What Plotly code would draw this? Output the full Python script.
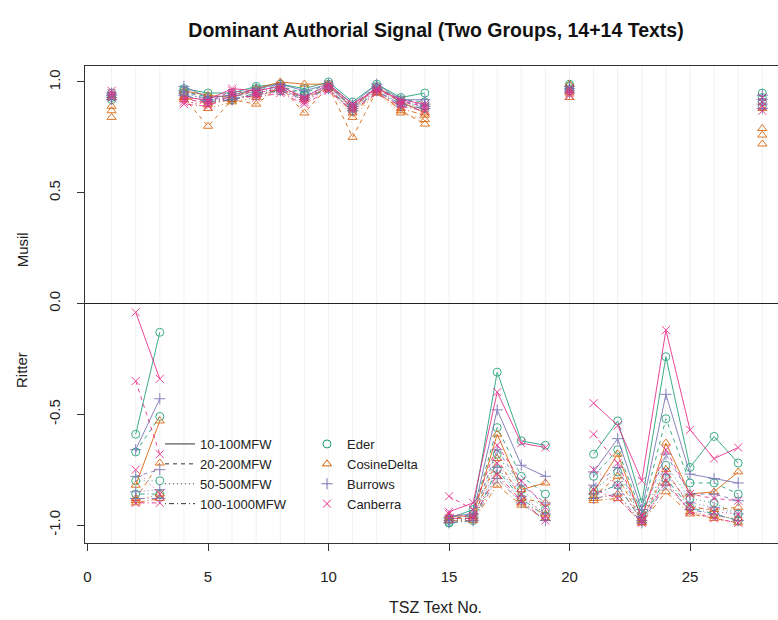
import plotly.graph_objects as go

# TSZ text numbers 1..28; positive = Musil signal, negative = Ritter signal
texts = list(range(1, 29))

# Eder's Delta
eder_100 = [0.95, -0.59, -0.13, 0.97, 0.95, 0.95, 0.98, 0.99, 0.97, 1.00, 0.91, 0.99, 0.93, 0.95,
            -0.97, -0.93, -0.31, -0.62, -0.64, 0.99, -0.68, -0.53, -0.90, -0.24, -0.74, -0.60, -0.72, 0.95]
eder_200 = [0.94, -0.67, -0.51, 0.96, 0.93, 0.94, 0.97, 0.98, 0.95, 0.99, 0.89, 0.98, 0.92, 0.91,
            -0.98, -0.95, -0.56, -0.78, -0.86, 0.98, -0.78, -0.66, -0.95, -0.52, -0.81, -0.81, -0.86, 0.93]
eder_500 = [0.93, -0.80, -0.80, 0.95, 0.92, 0.93, 0.96, 0.97, 0.94, 0.98, 0.88, 0.97, 0.91, 0.89,
            -0.99, -0.97, -0.68, -0.84, -0.93, 0.97, -0.84, -0.76, -0.97, -0.73, -0.88, -0.90, -0.95, 0.91]
eder_1000 = [0.92, -0.86, -0.86, 0.94, 0.91, 0.92, 0.95, 0.96, 0.93, 0.97, 0.87, 0.96, 0.90, 0.88,
             -0.99, -0.98, -0.75, -0.88, -0.96, 0.96, -0.86, -0.82, -0.98, -0.79, -0.92, -0.95, -0.98, 0.89]

# Cosine Delta
cosine_100 = [0.93, -0.82, -0.53, 0.96, 0.94, 0.93, 0.97, 1.00, 0.99, 0.99, 0.88, 0.98, 0.91, 0.86,
              -0.96, -0.96, -0.59, -0.84, -0.81, 0.99, -0.85, -0.68, -0.97, -0.63, -0.86, -0.85, -0.76, 0.88]
cosine_200 = [0.84, -0.88, -0.72, 0.93, 0.80, 0.92, 0.90, 0.98, 0.86, 0.98, 0.75, 0.96, 0.87, 0.81,
              -0.97, -0.97, -0.70, -0.88, -0.90, 0.93, -0.87, -0.78, -0.98, -0.75, -0.92, -0.93, -0.92, 0.72]
cosine_500 = [0.87, -0.89, -0.86, 0.92, 0.88, 0.91, 0.93, 0.97, 0.92, 0.97, 0.84, 0.95, 0.86, 0.83,
              -0.98, -0.97, -0.78, -0.90, -0.95, 0.95, -0.88, -0.86, -0.99, -0.81, -0.94, -0.96, -0.97, 0.76]
cosine_1000 = [0.89, -0.90, -0.88, 0.93, 0.90, 0.92, 0.94, 0.97, 0.93, 0.97, 0.86, 0.95, 0.88, 0.85,
               -0.98, -0.98, -0.82, -0.91, -0.97, 0.96, -0.89, -0.88, -0.99, -0.85, -0.95, -0.97, -0.99, 0.79]

# Burrows's Delta
burrows_100 = [0.95, -0.66, -0.43, 0.98, 0.93, 0.94, 0.97, 0.99, 0.96, 0.99, 0.90, 0.99, 0.92, 0.92,
               -0.96, -0.95, -0.48, -0.73, -0.78, 0.98, -0.76, -0.61, -0.93, -0.41, -0.77, -0.79, -0.81, 0.94]
burrows_200 = [0.94, -0.78, -0.75, 0.96, 0.92, 0.93, 0.96, 0.98, 0.94, 0.98, 0.89, 0.98, 0.91, 0.90,
               -0.97, -0.96, -0.66, -0.82, -0.90, 0.97, -0.82, -0.74, -0.96, -0.68, -0.86, -0.86, -0.89, 0.92]
burrows_500 = [0.93, -0.85, -0.84, 0.95, 0.92, 0.92, 0.95, 0.97, 0.93, 0.98, 0.88, 0.97, 0.90, 0.89,
               -0.98, -0.97, -0.74, -0.87, -0.95, 0.96, -0.86, -0.82, -0.98, -0.77, -0.90, -0.92, -0.95, 0.90]
burrows_1000 = [0.92, -0.88, -0.88, 0.94, 0.91, 0.92, 0.94, 0.96, 0.92, 0.97, 0.87, 0.96, 0.89, 0.88,
                -0.99, -0.98, -0.79, -0.90, -0.98, 0.95, -0.88, -0.86, -0.99, -0.82, -0.93, -0.95, -0.98, 0.88]

# Canberra distance
canberra_100 = [0.96, -0.04, -0.34, 0.93, 0.92, 0.97, 0.96, 0.98, 0.93, 0.99, 0.90, 0.97, 0.92, 0.90,
                -0.94, -0.90, -0.40, -0.63, -0.65, 0.97, -0.45, -0.55, -0.80, -0.12, -0.57, -0.70, -0.65, 0.93]
canberra_200 = [0.95, -0.35, -0.68, 0.92, 0.91, 0.96, 0.95, 0.97, 0.92, 0.98, 0.89, 0.97, 0.91, 0.89,
                -0.87, -0.93, -0.64, -0.80, -0.92, 0.96, -0.59, -0.72, -0.96, -0.66, -0.86, -0.88, -0.89, 0.91]
canberra_500 = [0.94, -0.75, -0.86, 0.91, 0.90, 0.95, 0.94, 0.96, 0.91, 0.97, 0.88, 0.96, 0.90, 0.88,
                -0.95, -0.96, -0.72, -0.86, -0.96, 0.95, -0.75, -0.82, -0.98, -0.76, -0.91, -0.94, -0.95, 0.89]
canberra_1000 = [0.93, -0.90, -0.90, 0.90, 0.89, 0.94, 0.93, 0.95, 0.90, 0.96, 0.87, 0.95, 0.89, 0.87,
                 -0.97, -0.97, -0.77, -0.89, -0.98, 0.94, -0.84, -0.88, -0.99, -0.80, -0.94, -0.97, -0.99, 0.87]

mfw_labels = ["10-100MFW", "20-200MFW", "50-500MFW", "100-1000MFW"]
measure_labels = ["Eder", "CosineDelta", "Burrows", "Canberra"]

measures = [
    ("Eder", [eder_100, eder_200, eder_500, eder_1000]),
    ("CosineDelta", [cosine_100, cosine_200, cosine_500, cosine_1000]),
    ("Burrows", [burrows_100, burrows_200, burrows_500, burrows_1000]),
    ("Canberra", [canberra_100, canberra_200, canberra_500, canberra_1000]),
]

colors = {"Eder": "#1b9e77", "CosineDelta": "#d95f02", "Burrows": "#7570b3", "Canberra": "#e7298a"}
symbols = {"Eder": "circle-open", "CosineDelta": "triangle-up-open",
           "Burrows": "cross-thin-open", "Canberra": "x-thin-open"}
dashes = ["solid", "4px,4px", "1px,3px", "1px,3px,5px,3px"]

FONT = "Liberation Sans, Arial, Helvetica, sans-serif"


def split_by_group(xs, ys):
    """Break the line wherever the dominant author changes."""
    ox, oy = [], []
    prev = None
    for x, y in zip(xs, ys):
        if prev is not None and (prev > 0) != (y > 0):
            ox.append(None)
            oy.append(None)
        ox.append(x)
        oy.append(y)
        prev = y
    return ox, oy


fig = go.Figure()

# faint guide line at every text
for t in texts:
    fig.add_vline(x=t, line=dict(color="#f1f1f1", width=1), layer="below")

for name, series in measures:
    for i, vals in enumerate(series):
        sx, sy = split_by_group(texts, vals)
        fig.add_trace(go.Scatter(
            x=sx, y=sy, mode="lines+markers",
            line=dict(color=colors[name], width=1, dash=dashes[i]),
            marker=dict(symbol=symbols[name], size=8, color=colors[name],
                        line=dict(width=1, color=colors[name])),
            opacity=0.85, showlegend=False, connectgaps=False,
        ))

# zero line separating the two groups
fig.add_hline(y=0, line=dict(color="#222222", width=1.2))

# legend: line types
for i, lab in enumerate(mfw_labels):
    fig.add_trace(go.Scatter(
        x=[None], y=[None], mode="lines", name=lab,
        line=dict(color="#333333", width=1, dash=dashes[i]),
        legend="legend",
    ))
# legend: distance measures
for name in measure_labels:
    fig.add_trace(go.Scatter(
        x=[None], y=[None], mode="markers", name=name,
        marker=dict(symbol=symbols[name], size=8, color=colors[name],
                    line=dict(width=1, color=colors[name])),
        legend="legend2",
    ))

L, R, T, B = 85, 0, 66, 77
W, H = 778, 620
pw, ph = W - L - R, H - T - B

fig.update_layout(
    width=W, height=H,
    margin=dict(l=L, r=R, t=T, b=B),
    paper_bgcolor="white", plot_bgcolor="white",
    font=dict(family=FONT, size=13, color="#222222"),
    title=dict(text="<b>Dominant Authorial Signal (Two Groups, 14+14 Texts)</b>",
               x=436 / W, xanchor="center",
               y=1 - 30 / H, yanchor="middle",
               font=dict(family=FONT, size=19.5, color="#111111")),
    legend=dict(x=(160 - L) / pw, y=(543 - 429) / ph, xanchor="left", yanchor="top",
                bgcolor="rgba(0,0,0,0)", borderwidth=0, font=dict(size=13),
                itemwidth=30, tracegroupgap=0),
    legend2=dict(x=(307 - L) / pw, y=(543 - 429) / ph, xanchor="left", yanchor="top",
                 bgcolor="rgba(0,0,0,0)", borderwidth=0, font=dict(size=13),
                 itemwidth=30, tracegroupgap=0),
    showlegend=True,
)

fig.update_xaxes(
    range=[-2.5 / 24.1, (W - 87.5) / 24.1],
    tickvals=[0, 5, 10, 15, 20, 25], ticks="outside", ticklen=7, tickcolor="#333333",
    showgrid=False, zeroline=False,
    showline=True, linecolor="#333333", linewidth=1, mirror=True,
    tickfont=dict(size=15), ticklabelstandoff=13,
)
fig.update_yaxes(
    range=[-1.081, 1.072],
    tickvals=[-1.0, -0.5, 0.0, 0.5, 1.0], ticktext=["-1.0", "-0.5", "0.0", "0.5", "1.0"],
    tickangle=-90, ticks="outside", ticklen=7, tickcolor="#333333",
    showgrid=False, zeroline=False,
    showline=True, linecolor="#333333", linewidth=1, mirror=False,
    tickfont=dict(size=15), ticklabelstandoff=11,
)

# axis titles
fig.add_annotation(text="TSZ Text No.", xref="paper", yref="paper",
                   x=(436 - L) / pw, y=-(607 - 543) / ph, showarrow=False,
                   xanchor="center", yanchor="middle", font=dict(size=16))
fig.add_annotation(text="Musil", xref="paper", yref="y", x=-(L - 22) / pw, y=0.24,
                   textangle=-90, showarrow=False, xanchor="center", yanchor="middle",
                   font=dict(size=15))
fig.add_annotation(text="Ritter", xref="paper", yref="y", x=-(L - 22) / pw, y=-0.30,
                   textangle=-90, showarrow=False, xanchor="center", yanchor="middle",
                   font=dict(size=15))

fig.write_html("out.html")
